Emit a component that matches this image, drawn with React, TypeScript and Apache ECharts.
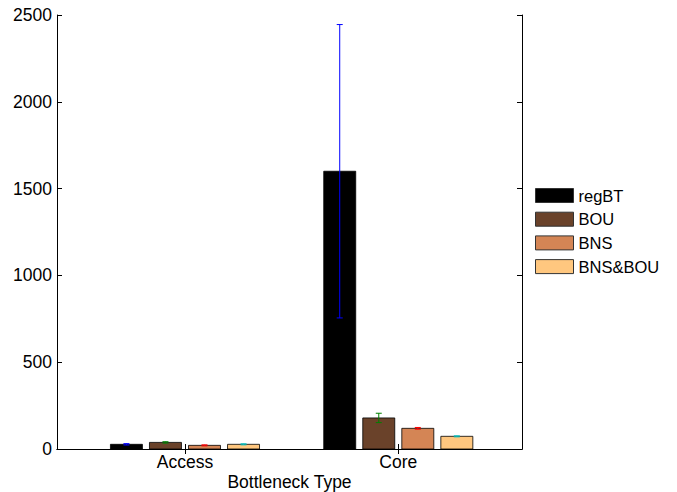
import React, { useEffect, useRef } from 'react';
import * as echarts from 'echarts';

// Bottleneck types on the x axis
const categories = ['Access', 'Core'];
const seriesNames = ['regBT', 'BOU', 'BNS', 'BNS&BOU'];

// Mean values per bottleneck type (Access, Core)
const regBT = [27, 1600];
const bou = [38, 179];
const bns = [21, 119];
const bnsBou = [27, 73];

// Half-length of each error bar
const regBTErr = [4, 845];
const bouErr = [4, 27];
const bnsErr = [3, 5];
const bnsBouErr = [3, 3];

const yTicks = [0, 500, 1000, 1500, 2000, 2500];

const values = [regBT, bou, bns, bnsBou];
const errors = [regBTErr, bouErr, bnsErr, bnsBouErr];
const barColors = ['#000000', '#6a422a', '#d48555', '#ffc77f'];
const errorColors = ['#0000ff', '#008000', '#ff0000', '#00bfbf'];

const BAR_STEP = 0.183;
const BAR_HALF = 0.075;
const CAP = 3;
const FONT = '"Liberation Sans", Arial, Helvetica, sans-serif';
const AXIS_FS = 17.5;
const LEGEND_FS = 16.5;

function makeRenderItem(idx: number) {
  return (_params: any, api: any) => {
    const g = api.value(0);
    const v = api.value(1);
    const e = api.value(2);
    const cx = g + (idx - 1.5) * BAR_STEP;
    const [x0, yTop] = api.coord([cx - BAR_HALF, v]);
    const [x1, yBase] = api.coord([cx + BAR_HALF, 0]);
    const [xc, yHi] = api.coord([cx, v + e]);
    const [, yLo] = api.coord([cx, Math.max(0, v - e)]);
    const ec = errorColors[idx];
    return {
      type: 'group',
      children: [
        {
          type: 'rect',
          shape: { x: x0, y: yTop, width: x1 - x0, height: yBase - yTop },
          style: { fill: barColors[idx], stroke: '#000', lineWidth: 0.8 },
        },
        {
          type: 'line',
          shape: { x1: xc, y1: yHi, x2: xc, y2: yLo },
          style: { stroke: ec, lineWidth: 1 },
        },
        {
          type: 'line',
          shape: { x1: xc - CAP, y1: yHi, x2: xc + CAP, y2: yHi },
          style: { stroke: ec, lineWidth: 1 },
        },
        {
          type: 'line',
          shape: { x1: xc - CAP, y1: yLo, x2: xc + CAP, y2: yLo },
          style: { stroke: ec, lineWidth: 1 },
        },
      ],
    };
  };
}

export default function App() {
  const ref = useRef<HTMLDivElement>(null);

  useEffect(() => {
    if (!ref.current) return;
    const chart = echarts.init(ref.current, undefined, { renderer: 'svg' });

    const axisLine = { show: true, lineStyle: { color: '#000', width: 1 } };
    const tickValues = categories.map((_, i) => i + 1);

    chart.setOption({
      animation: false,
      backgroundColor: '#fff',
      textStyle: { fontFamily: FONT },
      grid: {
        left: 57,
        right: 155,
        top: 15,
        bottom: 43,
        containLabel: false,
        outerBoundsMode: 'none',
      },
      legend: {
        orient: 'vertical',
        left: 535,
        top: 187,
        padding: 0,
        itemWidth: 38,
        itemHeight: 14,
        itemGap: 6.7,
        icon: 'rect',
        selectedMode: false,
        textStyle: { fontSize: LEGEND_FS, color: '#000', fontFamily: FONT },
        data: seriesNames.map((n, i) => ({
          name: n,
          itemStyle: { color: barColors[i], borderColor: '#333', borderWidth: 1 },
        })),
      },
      xAxis: [
        {
          type: 'value',
          min: 0.4,
          max: 2.58,
          position: 'bottom',
          axisLine,
          splitLine: { show: false },
          axisTick: { show: true, inside: true, length: 5, customValues: tickValues, lineStyle: { color: '#000' } },
          axisLabel: {
            show: true,
            customValues: tickValues,
            formatter: (v: number) => categories[Math.round(v) - 1] ?? '',
            fontSize: AXIS_FS,
            color: '#000',
            margin: 4,
            fontFamily: FONT,
          },
          name: 'Bottleneck Type',
          nameLocation: 'middle',
          nameGap: 24,
          nameMoveOverlap: false,
          nameTextStyle: { fontSize: AXIS_FS, color: '#000', fontFamily: FONT },
        },
        {
          type: 'value',
          min: 0.4,
          max: 2.58,
          position: 'top',
          axisLine,
          splitLine: { show: false },
          axisTick: { show: true, inside: true, length: 5, customValues: tickValues, lineStyle: { color: '#000' } },
          axisLabel: { show: false },
        },
      ],
      yAxis: [
        {
          type: 'value',
          min: 0,
          max: 2500,
          interval: 500,
          position: 'left',
          axisLine,
          splitLine: { show: false },
          axisTick: { show: true, inside: true, length: 5, customValues: yTicks, lineStyle: { color: '#000' } },
          axisLabel: {
            customValues: yTicks,
            formatter: (v: number) => String(v),
            fontSize: AXIS_FS,
            color: '#000',
            margin: 5,
            fontFamily: FONT,
          },
        },
        {
          type: 'value',
          min: 0,
          max: 2500,
          interval: 500,
          position: 'right',
          axisLine,
          splitLine: { show: false },
          axisTick: { show: true, inside: true, length: 5, lineStyle: { color: '#000' } },
          axisLabel: { show: false },
        },
      ],
      series: seriesNames.map((name, idx) => ({
        name,
        type: 'custom',
        xAxisIndex: 0,
        yAxisIndex: 0,
        itemStyle: { color: barColors[idx], borderColor: '#333', borderWidth: 1 },
        renderItem: makeRenderItem(idx),
        encode: { x: 0, y: 1 },
        data: categories.map((_, g) => [g + 1, values[idx][g], errors[idx][g]]),
        clip: false,
      })),
    });

    return () => chart.dispose();
  }, []);

  return <div ref={ref} style={{ width: 677, height: 492, position: 'absolute', left: 0, top: 0 }} />;
}
